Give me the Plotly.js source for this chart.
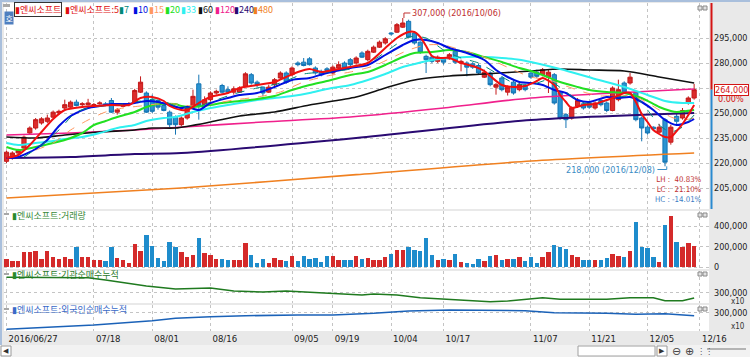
<!DOCTYPE html>
<html><head><meta charset="utf-8">
<script src="https://cdn.plot.ly/plotly-3.0.1.min.js"></script>
<style>html,body{margin:0;padding:0;background:#e9e9e9;}#chart{width:750px;height:357px;}</style>
</head><body><div id="chart"></div>
<script>
const stockName = '엔씨소프트';
// OHLC (won), one per trading day from 2016/06/27 (index 0) to 2016/12/15 (index 118)
const openP = [221000,223000,226000,229000,238000,241000,244000,245000,247500,250000,
253000,253500,256500,255000,255000,254500,255500,255500,257500,250500,
254000,255000,256500,262500,262000,258000,257500,254500,250500,247500,
243000,247000,253500,267500,255000,258000,262000,266500,264000,262500,
262500,266000,273000,268500,265500,262500,267000,271000,274000,273000,
280000,280500,282500,277000,275000,276500,274000,277000,280000,282000,
280000,286000,282000,286500,289500,292000,298000,298500,301500,305000,
298000,292500,284000,283500,281000,282500,282500,287000,280000,280000,
279500,278500,271500,274000,265500,271000,262500,268500,264000,266500,
274000,274500,273000,271500,273000,262000,249000,247000,254000,255500,
256000,253000,257500,256000,251500,258000,268000,268000,262500,247000,
241500,241500,238500,246000,232500,248000,247000,256000,259000];
const highP = [227500,227000,228500,236500,242000,247000,247500,249000,251500,252000,
258000,257500,258000,256500,258500,256000,257000,256500,259000,253000,
256000,256500,264500,272000,263000,261000,258000,255500,251500,248500,
248000,254500,264000,273000,260000,263000,264000,267500,266000,266000,
266000,274500,274000,269500,266000,267000,271000,275000,275000,278000,
281000,283000,283500,278000,276000,277500,278500,281000,281000,283000,
284000,287000,288000,290500,293500,295500,298500,304000,307000,306000,
299000,293000,285000,284500,284500,283500,286000,288000,282000,281000,
280500,279500,276000,275000,268000,272000,266500,269500,268000,267500,
275000,276000,277000,276000,274000,263000,250000,254000,259000,256500,
257000,257000,258500,257000,266000,270000,269000,274000,263000,248000,
242500,242000,243500,247000,243000,249500,253000,260000,267500];
const lowP = [220000,222000,225000,228000,237000,240000,243000,244000,247000,249000,
252000,253000,254000,254000,254500,253500,255000,254000,250000,249000,
253500,254000,256000,262000,250000,250000,252000,251000,241500,237000,
242000,246000,253000,246000,254000,257000,261000,261500,261500,261000,
262000,265500,267000,265500,260000,262000,266000,270000,267500,272000,
278000,278000,278500,273000,272000,274500,273000,276500,276000,278000,
279000,283000,281000,286000,289000,291000,296500,298000,301000,295000,
291000,285500,274000,280000,280000,279000,282000,279500,275000,272000,
276500,273000,271000,266000,261000,263000,260500,261000,263000,263000,
270500,271000,272000,262000,255000,246000,241000,246000,253000,252000,
252500,252000,254000,250500,251000,257000,262000,267000,245000,233000,
237000,239500,238000,218000,231000,243000,246000,255000,258000];
const closeP = [226500,226000,227500,235500,241000,246000,246500,247000,250500,251000,
255000,256500,254500,255500,256000,255000,256000,255000,250500,252000,
255000,255500,263500,268500,250500,251000,253500,251500,243000,243000,
247000,253500,260000,254500,258000,262000,263000,262500,262500,264500,
265000,273500,268000,267000,262000,265500,270000,274000,268500,277000,
279000,278500,279000,274000,273000,275500,277500,279000,277000,279000,
283000,283500,287000,289500,292500,294500,297500,303000,304000,295500,
292000,286500,282000,281000,283500,280500,285000,280500,281000,277500,
277500,274000,274500,267000,267000,264000,265500,262000,267000,264000,
271500,272000,276000,274500,256000,247000,246000,253000,257500,253000,
253500,256000,255000,251500,265000,264000,262500,271500,246000,241000,
238000,240500,241500,220500,241500,245000,251500,259000,264000];
const volume = [81000,55000,55000,146000,146000,153000,75000,153000,101000,81000,
98000,81000,195000,98000,98000,65000,68000,55000,195000,88000,
68000,42000,221000,153000,309000,205000,88000,55000,247000,195000,
146000,101000,120000,286000,140000,120000,75000,81000,72000,72000,
72000,234000,120000,42000,81000,42000,88000,72000,55000,104000,
55000,104000,81000,88000,49000,107000,107000,72000,72000,72000,
107000,75000,88000,65000,65000,98000,130000,163000,163000,198000,
163000,156000,286000,117000,65000,75000,65000,124000,49000,42000,
26000,75000,55000,107000,117000,65000,75000,75000,98000,55000,
98000,36000,98000,150000,215000,195000,172000,117000,98000,72000,
65000,72000,72000,88000,130000,107000,98000,153000,439000,198000,
182000,98000,49000,410000,498000,244000,195000,237000,205000];

const ma5Idx = [0,2,4,6,8,10,13,15,18,21,23,25,27,28,30,31,33,35,38,40,43,46,48,50,52,54,56,59,62,65,67,69,70,71,72,73,74,76,78,80,82,83,85,87,89,91,92,94,95,96,97,99,101,102,104,106,107,108,109,110,111,112,113,114,115,116,117,118];
const ma5Val = [223000,224800,230800,238600,246400,251800,253600,254200,254800,254800,259000,259600,257200,254200,251800,251800,256000,259600,262000,265000,266800,268600,271600,274600,276400,274600,275800,277600,280000,289000,295000,298600,298600,295600,290200,284200,283000,283000,280000,278200,275200,272200,266800,265600,266200,269200,271000,266800,260800,256600,253000,254800,255400,256600,259000,262000,262000,256600,249400,244600,239800,237400,235600,235600,239200,243400,248800,254800];
const ma7Idx = [3,6,9,12,15,19,23,26,29,32,35,39,43,47,51,55,59,63,66,69,72,75,78,81,84,87,90,93,96,99,102,105,108,110,112,114,116,118];
const ma7Val = [223600,230800,239800,250600,253600,254800,257200,258400,254200,253000,256600,261400,265000,268000,273400,274600,276400,281800,289000,295600,295000,287800,283000,280000,274000,268000,266800,269800,262600,256000,256600,259600,259600,251800,242800,238600,241600,248800];
const ma10Idx = [0,2,5,7,9,11,14,16,18,21,22,24,26,28,30,31,33,35,38,40,43,46,49,52,55,59,62,65,68,70,72,74,76,79,82,84,86,88,90,92,94,96,98,100,103,105,107,109,111,113,115,117,118];
const ma10Val = [223000,223600,228400,233800,242200,248200,253000,254200,255400,255400,256000,257200,256600,254800,253000,253600,251800,256000,259000,260800,262000,265600,269800,271000,274000,277000,278800,284800,290800,293800,293800,292000,289000,286000,281800,275800,271600,268600,268000,266800,263800,262000,257800,256600,259600,259000,259600,256600,251800,245800,242800,244600,246400];
const ma15Idx = [5,8,11,14,17,20,23,26,29,32,35,39,43,47,51,55,59,63,66,69,72,75,78,81,84,87,90,93,96,99,102,105,108,110,112,114,116,118];
const ma15Val = [227800,232000,239800,245800,250600,253000,254200,255400,255400,254200,255400,257800,259600,262600,268600,272200,274600,278200,283000,287800,290800,290800,287800,284800,280600,275800,271600,269800,266200,262600,260200,260800,259600,256000,251800,247600,245800,247000];
const ma20Idx = [0,2,5,8,10,13,15,17,19,22,24,26,29,30,32,35,37,40,43,46,49,52,55,59,62,65,68,70,73,76,79,82,85,88,90,92,95,98,100,103,106,109,112,114,115,118];
const ma20Val = [229600,227800,229600,232000,233800,238000,242800,245200,247600,250600,253600,255400,255400,254200,253600,254800,256000,257200,258400,260200,263800,266800,269200,272800,274600,278800,283600,286000,286600,287800,286600,283600,280600,277000,275200,272800,268600,265600,263800,262600,262000,259000,253600,251200,250600,251800];
const ma33Idx = [0,2,5,8,10,13,16,19,22,24,27,29,32,35,38,40,43,46,49,52,55,59,62,65,68,70,73,76,79,82,85,88,90,95,101,106,110,113,116,118];
const ma33Val = [232000,230800,232000,233200,234400,235600,238000,241000,242800,245200,247000,247600,250600,253000,254800,256000,257800,259000,260200,262000,264400,266800,269800,273400,277600,279400,281800,283000,283600,283600,283000,282000,280600,276400,270400,265600,260800,257200,256000,256000];
const ma60Idx = [0,5,10,16,22,25,29,35,40,46,52,60,65,70,76,82,90,95,100,106,112,118];
const ma60Val = [235600,235000,236800,238600,239800,241000,241000,244600,248200,250600,254800,259600,265000,269800,272200,273400,275200,276400,275800,275200,271600,268000];
const ma120Idx = [0,11,22,29,44,59,75,90,118];
const ma120Val = [236800,238000,239800,241300,244600,247600,253000,259000,264400];
const ma240Idx = [0,11,22,30,60,90,118];
const ma240Val = [223000,223600,225400,226000,235000,245800,250000];
const ma480Idx = [0,30,60,90,118];
const ma480Val = [199000,205000,213000,221200,226000];

// cumulative net buying (x10), read at sampled days
const instIdx = [0,14,17,24,29,35,39,44,48,51,56,61,63,67,71,75,79,83,86,90,92,95,103,107,111,113,116,118];
const instVal = [330800,329800,325400,313400,307400,309400,303400,301400,303400,301400,299400,295400,297400,295400,290000,287400,285400,282000,283400,287400,290000,286800,286800,290000,290000,284000,284000,289400];
const foreignIdx = [0,10,15,25,29,35,41,50,56,60,63,69,76,89,94,103,108,113,118];
const foreignVal = [266800,273400,275400,284000,288800,292000,294000,295400,295400,297400,298800,303400,305400,304000,300000,298800,296800,298000,294000];

// axis ticks
const tickIdx = [0,15,25,35,49,56,66,75,90,100,110,119];
const tickLabels = ['2016/06/27','07/18','08/01','08/16','09/05','09/19','10/04','10/17','11/07','11/21','12/05','12/16'];
const priceTicks = [205000,220000,235000,250000,265000,280000,295000];
const priceTickText = ['205,000','220,000','235,000','250,000','','280,000','295,000'];
const volTicks = [0,200000,400000];
const volTickText = ['0','200,000','400,000'];
const cumTicks = [300000];
const cumTickText = ['300,000'];

// legend
const maPeriods = ['5','7','10','15','20','33','60','120','240','480'];
const maColors = ['#f01010','#008878','#0010e0','#ff9860','#22e022','#30f0f0','#101010','#f0208c','#2a0a72','#f08020'];

const peakHigh = 307000, peakLabel = '307,000 (2016/10/06)', peakIdx = 68;
const lowLow = 218000, lowLabel = '218,000 (2016/12/08)', lowIdx = 113;
const statLabels = ['LH :  40.83%','LC :  21.10%','HC : -14.01%'];
const lastPrice = 264000, lastPriceText = '264,000', lastChange = '0.00%';

const W = 750, H = 357;
const fx = x => x / W, fy = y => (H - y) / H;
const numFont = 'Liberation Sans Narrow, DejaVu Sans Condensed, Liberation Sans, sans-serif';
const krFont = 'Noto Sans CJK KR, Noto Sans, sans-serif';

const days = openP.map((_, i) => i);
const volColors = openP.map((o, i) => closeP[i] >= o ? '#d42a2a' : '#1e8ccc');

const traces = [];
traces.push({type:'candlestick', x: days, open: openP, high: highP, low: lowP, close: closeP,
  xaxis:'x', yaxis:'y', whiskerwidth:0, hoverinfo:'skip',
  increasing:{line:{color:'#c41a1a', width:1}, fillcolor:'#dc2c2c'},
  decreasing:{line:{color:'#1575b4', width:1}, fillcolor:'#2a94d2'}});
function maLine(idx, val, color, width, dash){
  traces.push({type:'scatter', mode:'lines', x: idx, y: val, xaxis:'x', yaxis:'y', hoverinfo:'skip',
    line:{color: color, width: width, dash: dash || 'solid', shape:'spline', smoothing:0.7}});
}
maLine(ma480Idx, ma480Val, maColors[9], 1.6);
maLine(ma240Idx, ma240Val, maColors[8], 2);
maLine(ma120Idx, ma120Val, maColors[7], 1.6);
maLine(ma60Idx, ma60Val, maColors[6], 1.6);
maLine(ma33Idx, ma33Val, maColors[5], 2);
maLine(ma20Idx, ma20Val, maColors[4], 2);
maLine(ma15Idx, ma15Val, maColors[3], 1, 'dash');
maLine(ma10Idx, ma10Val, maColors[2], 2);
maLine(ma7Idx, ma7Val, maColors[1], 1, 'dash');
maLine(ma5Idx, ma5Val, maColors[0], 2);
traces.push({type:'bar', x: days, y: volume, xaxis:'x', yaxis:'y2', width:0.75,
  marker:{color: volColors, line:{width:0}}, hoverinfo:'skip'});
traces.push({type:'scatter', mode:'lines', x: instIdx, y: instVal, xaxis:'x', yaxis:'y3',
  line:{color:'#1f7a1f', width:1.6}, hoverinfo:'skip'});
traces.push({type:'scatter', mode:'lines', x: foreignIdx, y: foreignVal, xaxis:'x', yaxis:'y4',
  line:{color:'#1b62b8', width:1.6}, hoverinfo:'skip'});

const yCommon = {anchor:'x', side:'right', ticks:'', showline:false, zeroline:false,
  gridcolor:'#c4c4c4', griddash:'dot', gridwidth:1, tickmode:'array', fixedrange:true,
  ticklabelstandoff:4, tickfont:{family:numFont, size:9, color:'#222'}};

const shapes = [];
const annotations = [];
function rectPx(x0,y0,x1,y1,fill,line){ shapes.push({type:'rect', xref:'paper', yref:'paper', x0:fx(x0), x1:fx(x1), y0:fy(y1), y1:fy(y0), fillcolor:fill, line:{color: line || fill, width: line ? 1 : 0}, layer:'above'}); }
function textPx(x,y,text,color,size,family,anchor,extra){ annotations.push(Object.assign({xref:'paper', yref:'paper', x:fx(x), y:fy(y), text:text, showarrow:false, xanchor:anchor||'left', yanchor:'middle', font:{color:color, size:size, family:family}}, extra||{})); }

// window borders and strips
rectPx(0,0,750,2,'#a9bfdc');
rectPx(0,0,2,345,'#a9bfdc');
rectPx(0,345,750,357,'#f2f2f2');
rectPx(1,346,11,356,'#ffffff','#9a9a9a');
textPx(6,351,'◀','#333',7,'DejaVu Sans','center');
rectPx(578,346,655,356,'#ffffff','#a0a0a0');
rectPx(657,346,667,356,'#ffffff','#9a9a9a');
textPx(662,351,'▶','#333',7,'DejaVu Sans','center');
textPx(670,351,'⊖','#444',11,'DejaVu Sans','left');
textPx(683,351,'⊕','#444',11,'DejaVu Sans','left');
textPx(695,351,'⋮⋮','#555',8,'DejaVu Sans','left');
shapes.push({type:'line', xref:'paper', yref:'paper', x0:fx(707), x1:fx(746), y0:fy(349), y1:fy(349), line:{color:'#777', width:1}});

// pane buttons
[6, 213, 272, 307].forEach(y => { rectPx(698,y,702,y+4,'#e0e0e0','#8a8a8a'); rectPx(703,y,707,y+4,'#e0e0e0','#8a8a8a'); });
// pane icons
rectPx(3,4,10,7,'#a8a8a8');
[213, 273, 308].forEach(y => rectPx(4,y,9,y+2,'#a8a8a8'));

// price position line
shapes.push({type:'line', xref:'paper', yref:'y', x0:fx(711.5), x1:fx(711.5), y0:lastPrice, y1:316000, line:{color:'#d41414', width:2}});
shapes.push({type:'line', xref:'paper', yref:'y', x0:fx(711.5), x1:fx(711.5), y0:192400, y1:lastPrice, line:{color:'#2a8ad0', width:2}});

// peak / low pointers
shapes.push({type:'line', xref:'x', yref:'y', x0:peakIdx+0.2, x1:peakIdx+0.2, y0:peakHigh, y1:310000, line:{color:'#c03030', width:1}});
shapes.push({type:'line', xref:'x', yref:'y', x0:peakIdx+0.2, x1:peakIdx+1.3, y0:310000, y1:310000, line:{color:'#c03030', width:1}});
annotations.push({xref:'x', yref:'y', x:peakIdx+1.3, y:310000, text:peakLabel, showarrow:false, xanchor:'left', yanchor:'middle', font:{color:'#c03030', size:9, family:numFont}});
shapes.push({type:'line', xref:'x', yref:'y', x0:lowIdx+0.3, x1:lowIdx+0.3, y0:lowLow, y1:216100, line:{color:'#3a8cc4', width:1}});
shapes.push({type:'line', xref:'x', yref:'y', x0:lowIdx-1.3, x1:lowIdx+0.3, y0:216100, y1:216100, line:{color:'#3a8cc4', width:1}});
annotations.push({xref:'x', yref:'y', x:lowIdx-1.3, y:216100, text:lowLabel, showarrow:false, xanchor:'right', yanchor:'middle', font:{color:'#3a8cc4', size:9, family:numFont}});
const statColors = ['#c03030','#c03030','#3a7cc4'];
const statText = statLabels.map((t, k) => '<span style="color:' + statColors[k] + '">' + t + '</span>').join('<br>');
textPx(703, 189, statText, '#c03030', 7.8, numFont, 'right', {align:'right', borderpad:0});

// current price box
annotations.push({xref:'paper', yref:'y', x:fx(714), y:lastPrice, text:lastPriceText, showarrow:false, xanchor:'left', yanchor:'middle',
  font:{color:'#d41414', size:9, family:numFont}, bgcolor:'#ffffff', bordercolor:'#d41414', borderwidth:1, borderpad:0});
textPx(746, 99, lastChange, '#d41414', 9, numFont, 'right');
textPx(746, 301, 'x10', '#333', 8, numFont, 'right', {borderpad:0});
textPx(746, 326, 'x10', '#333', 8, numFont, 'right', {borderpad:0});

// legend
textPx(14, 9.5, '<span style="color:#e01010">▮</span>' + stockName, '#e01010', 9, krFont, 'left', {bgcolor:'#ffffff', bordercolor:'#333', borderwidth:1, borderpad:0});
const legX = [63,117,131,147,163,179,196,213,232,251];
maPeriods.forEach((p, k) => {
  const t = k === 0 ? '▮' + stockName + ':' + p : '▮' + p;
  textPx(legX[k], 9.5, t, k === 0 ? '#e01010' : maColors[k], 9, krFont, 'left');
});
// "호" button
textPx(9, 17.5, '호', '#ffffff', 8, krFont, 'center', {bgcolor:'#4f7fbf', borderpad:0.5});

// pane titles
textPx(10, 215, '<span style="color:#2a8a2a">▮</span>' + stockName + ':거래량', '#3a8a3a', 9, krFont, 'left');
textPx(10, 274, '<span style="color:#2a8a2a">▮</span>' + stockName + ':기관순매수누적', '#2a7a2a', 9, krFont, 'left');
textPx(10, 309, '<span style="color:#3a6ac8">▮</span>' + stockName + ':외국인순매수누적', '#3a6ac8', 9, krFont, 'left');

const layout = {
  width: W, height: H, margin:{l:0, r:0, t:0, b:0},
  paper_bgcolor:'#e9e9e9', plot_bgcolor:'#ffffff', showlegend:false,
  boxgap:0.2, boxgroupgap:0.1, bargap:0,
  font:{family:numFont, size:9, color:'#222'},
  xaxis:{domain:[fx(4), fx(709)], range:[-0.43, 120.55], anchor:'y4', tickmode:'array', tickvals:tickIdx, ticktext:tickLabels,
    ticklabelposition:'outside right', ticklabelshift:2, ticks:'', showline:false, zeroline:false,
    showgrid:true, gridcolor:'#c4c4c4', griddash:'dot', rangeslider:{visible:false}, fixedrange:true,
    tickfont:{family:numFont, size:9.5, color:'#222'}},
  yaxis: Object.assign({}, yCommon, {domain:[fy(209), fy(3)], range:[192400, 316000], tickvals:priceTicks, ticktext:priceTickText}),
  yaxis2: Object.assign({}, yCommon, {domain:[fy(269), fy(211)], range:[-19500, 546300], tickvals:volTicks, ticktext:volTickText}),
  yaxis3: Object.assign({}, yCommon, {domain:[fy(303), fy(271)], range:[279400, 343400], tickvals:cumTicks, ticktext:cumTickText}),
  yaxis4: Object.assign({}, yCommon, {domain:[fy(331), fy(305)], range:[263400, 315400], tickvals:cumTicks, ticktext:cumTickText}),
  shapes: shapes, annotations: annotations
};
Plotly.newPlot('chart', traces, layout, {displayModeBar:false, staticPlot:true});
</script></body></html>
